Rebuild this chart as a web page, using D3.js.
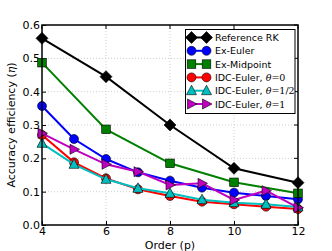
<!DOCTYPE html>
<html><head><meta charset="utf-8">
<script src="https://cdn.jsdelivr.net/npm/d3@7"></script>
<style>body{margin:0;background:#fff}svg{display:block}text{font-family:"DejaVu Sans",sans-serif}</style>
</head><body><svg id="c" width="332" height="251"></svg>
<script>
const ordersAll = [4,5,6,7,8,9,10,11,12];
const ordersEven = [4,6,8,10,12];
const refRK = [0.56,0.445,0.30,0.17,0.127];
const exEuler = [0.357,0.258,0.198,0.158,0.133,0.112,0.097,0.087,0.077];
const exMid = [0.487,0.287,0.185,0.128,0.095];
const idc0 = [0.27,0.188,0.14,0.107,0.087,0.07,0.062,0.055,0.048];
const idcHalf = [0.245,0.182,0.137,0.11,0.095,0.076,0.067,0.062,0.054];
const idc1 = [0.275,0.227,0.182,0.16,0.12,0.125,0.075,0.103,0.052];
const xTicks = [4,6,8,10,12];
const yTicks = [0.0,0.1,0.2,0.3,0.4,0.5,0.6];

const series = [
 {name:"Reference RK", x:ordersEven, y:refRK, color:"#000000", sym:"diamond"},
 {name:"Ex-Euler", x:ordersAll, y:exEuler, color:"#0000ff", sym:"circle"},
 {name:"Ex-Midpoint", x:ordersEven, y:exMid, color:"#008000", sym:"square"},
 {name:"IDC-Euler, ", th:"0", x:ordersAll, y:idc0, color:"#ff0000", sym:"circle"},
 {name:"IDC-Euler, ", th:"1/2", x:ordersAll, y:idcHalf, color:"#00bfbf", sym:"triangle"},
 {name:"IDC-Euler, ", th:"1", x:ordersAll, y:idc1, color:"#bf00bf", sym:"tright"}
];

const svg = d3.select("#c");
const L=42, R=298, T=25, B=225;
const x = d3.scaleLinear().domain([4,12]).range([L,R]);
const y = d3.scaleLinear().domain([0,0.6]).range([B,T]);

// grid
svg.append("g").selectAll("line").data(xTicks.slice(1,-1)).join("line")
 .attr("x1",d=>x(d)).attr("x2",d=>x(d)).attr("y1",T).attr("y2",B)
 .attr("stroke","#b0b0b0").attr("stroke-width",0.6).attr("stroke-dasharray","1,2");
svg.append("g").selectAll("line").data(yTicks.slice(1,-1)).join("line")
 .attr("y1",d=>y(d)).attr("y2",d=>y(d)).attr("x1",L).attr("x2",R)
 .attr("stroke","#b0b0b0").attr("stroke-width",0.6).attr("stroke-dasharray","1,2");

// axes
const xa = svg.append("g").attr("transform",`translate(0,${B})`)
 .call(d3.axisBottom(x).tickValues(xTicks).tickFormat(d3.format("d")).tickSizeInner(-4).tickSizeOuter(0).tickPadding(3));
const ya = svg.append("g").attr("transform",`translate(${L},0)`)
 .call(d3.axisLeft(y).tickValues(yTicks).tickFormat(d3.format(".1f")).tickSizeInner(-4).tickSizeOuter(0).tickPadding(2));
[xa,ya].forEach(a=>{a.select(".domain").remove();a.selectAll("text").attr("font-size",11).attr("fill","#000").style("font-family","DejaVu Sans");a.selectAll("line").attr("stroke","#000");});
xa.selectAll("text").attr("dy","0.6em");
// top/right ticks
svg.append("g").selectAll("line").data(xTicks).join("line").attr("x1",d=>x(d)).attr("x2",d=>x(d)).attr("y1",T).attr("y2",T+4).attr("stroke","#000");
svg.append("g").selectAll("line").data(yTicks).join("line").attr("y1",d=>y(d)).attr("y2",d=>y(d)).attr("x1",R).attr("x2",R-4).attr("stroke","#000");

const defs = svg.append("defs");
defs.append("clipPath").attr("id","clip").append("rect").attr("x",L-8).attr("y",T-8).attr("width",R-L+16).attr("height",B-T+16);

function marker(g, sym, cx, cy, color){
 let s;
 if(sym==="circle") s=g.append("circle").attr("cx",cx).attr("cy",cy).attr("r",4.5);
 else if(sym==="square") s=g.append("rect").attr("x",cx-4.3).attr("y",cy-4.3).attr("width",8.6).attr("height",8.6);
 else if(sym==="diamond") s=g.append("path").attr("d",`M${cx},${cy-6}L${cx+6},${cy}L${cx},${cy+6}L${cx-6},${cy}Z`);
 else if(sym==="triangle") s=g.append("path").attr("d",`M${cx},${cy-5.5}L${cx+5},${cy+4}L${cx-5},${cy+4}Z`);
 else if(sym==="tright") s=g.append("path").attr("d",`M${cx+5.5},${cy}L${cx-4},${cy-5}L${cx-4},${cy+5}Z`);
 s.attr("fill",color).attr("stroke","#000").attr("stroke-width",0.6);
}

const line = d3.line();
const plot = svg.append("g").attr("clip-path","url(#clip)");
series.forEach(s=>{
 const pts = s.x.map((v,i)=>[x(v),y(s.y[i])]);
 plot.append("path").attr("d",line(pts)).attr("fill","none").attr("stroke",s.color).attr("stroke-width",2);
 pts.forEach(p=>marker(plot,s.sym,p[0],p[1],s.color));
});

// frame
svg.append("rect").attr("x",L).attr("y",T).attr("width",R-L).attr("height",B-T)
 .attr("fill","none").attr("stroke","#000").attr("stroke-width",1.5);

// legend
const lx=185.5, ly=29.5, lw=109.5, lh=84;
svg.append("rect").attr("x",lx).attr("y",ly).attr("width",lw).attr("height",lh)
 .attr("fill","#fff").attr("stroke","#000").attr("stroke-width",1);
series.forEach((s,i)=>{
 const yy = 37.5 + i*13.3;
 const g = svg.append("g");
 g.append("line").attr("x1",191.5).attr("x2",206.5).attr("y1",yy).attr("y2",yy).attr("stroke",s.color).attr("stroke-width",2);
 marker(g,s.sym,191.5,yy,s.color);
 marker(g,s.sym,206.5,yy,s.color);
 const t = g.append("text").attr("x",215).attr("y",yy+3.5).attr("font-size",9.5).attr("fill","#000").text(s.name);
 if(s.th!==undefined){
  t.append("tspan").attr("font-style","italic").style("font-family","DejaVu Serif").text("θ");
  t.append("tspan").style("font-family","DejaVu Serif").text("="+s.th);
 }
});

// labels
svg.append("text").attr("x",(L+R)/2).attr("y",249).attr("text-anchor","middle").attr("font-size",11).text("Order (p)");
const yl = svg.append("text").attr("transform",`translate(15,${(T+B)/2}) rotate(-90)`).attr("text-anchor","middle").attr("font-size",11)
 .text("Accuracy efficiency (");
yl.append("tspan").attr("font-style","italic").style("font-family","DejaVu Serif").text("η");
yl.append("tspan").text(")");
</script></body></html>
